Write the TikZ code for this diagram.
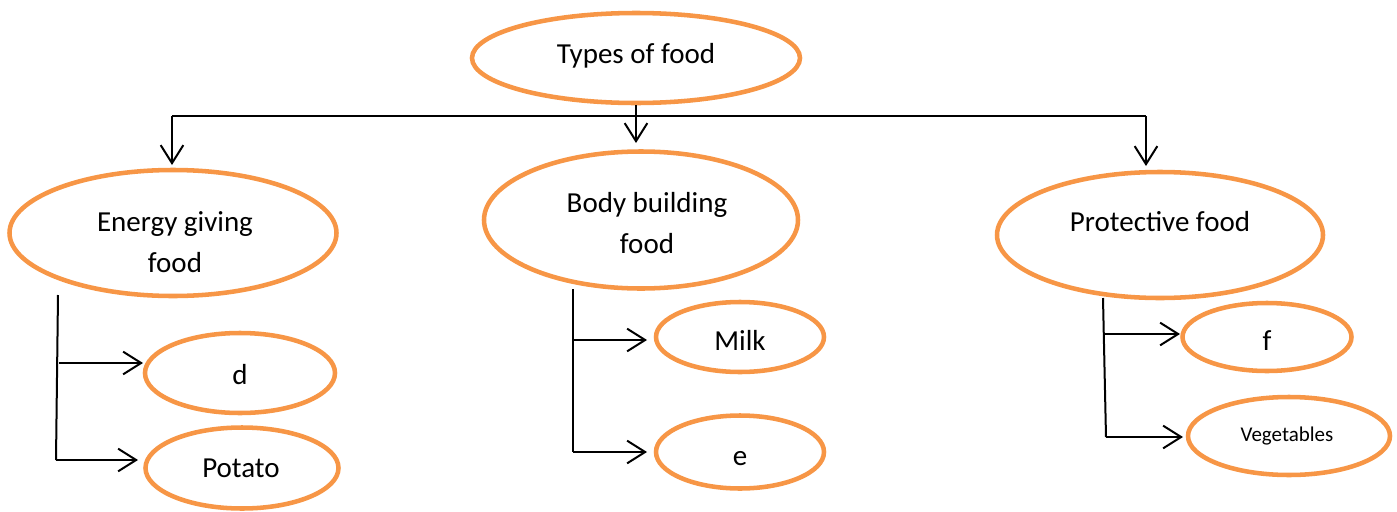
\documentclass[tikz,border=0pt]{standalone}
\usepackage{fontspec}
\setmainfont{Carlito}
\usetikzlibrary{shapes.geometric,arrows.meta}
\definecolor{foodorange}{HTML}{F79646}
\begin{document}
\begin{tikzpicture}[x=0.75pt,y=-0.75pt,
  oval/.style={ellipse, draw=foodorange, line width=3.4pt, inner sep=0pt, fill=white},
  lbl/.style={anchor=base, font=\fontsize{21.75}{30.75}\selectfont, align=center, inner sep=0pt},
  smalllbl/.style={anchor=base, font=\fontsize{15.75}{19}\selectfont, inner sep=0pt},
  link/.style={draw=black, line width=1.5pt},
  arr/.style={link, -{Straight Barb[length=13.5pt,width=17pt,line width=1.5pt]}}]
\useasboundingbox (0,0) rectangle (1397,511);
% ovals
\node[oval, minimum width=328*0.75pt, minimum height=90*0.75pt] (top) at (636,58) {};
\node[oval, minimum width=327*0.75pt, minimum height=126*0.75pt] (energy) at (173,233) {};
\node[oval, minimum width=314*0.75pt, minimum height=137*0.75pt] (body) at (641,220) {};
\node[oval, minimum width=326*0.75pt, minimum height=126*0.75pt] (prot) at (1160,235) {};
\node[oval, minimum width=190*0.75pt, minimum height=80*0.75pt] (d) at (240,373) {};
\node[oval, minimum width=193*0.75pt, minimum height=81*0.75pt] (potato) at (242,468) {};
\node[oval, minimum width=168*0.75pt, minimum height=70*0.75pt] (milk) at (740,337) {};
\node[oval, minimum width=168*0.75pt, minimum height=73*0.75pt] (e) at (740,452) {};
\node[oval, minimum width=169*0.75pt, minimum height=68*0.75pt] (f) at (1267,337) {};
\node[oval, minimum width=202*0.75pt, minimum height=78*0.75pt] (veg) at (1289,436) {};
% texts
\node[lbl] (topT) at (636,63) {Types of food};
\node[lbl] (energyT) at (175,272) {Energy giving\\food};
\node[lbl] (bodyT) at (647,253) {Body building\\food};
\node[lbl] (protT) at (1160,231) {Protective food};
\node[lbl] (dT) at (240,384) {d};
\node[lbl] (potatoT) at (241,477) {Potato};
\node[lbl] (milkT) at (740,350) {Milk};
\node[lbl] (eT) at (740,465) {e};
\node[lbl] (fT) at (1267,350) {f};
\node[smalllbl] (vegT) at (1287,441) {Vegetables};
% top connectors
\coordinate (jm) at (636,116);
\coordinate (jl) at (172,116);
\coordinate (jr) at (1146,116);
\draw[link] (top.south) -- (jm);
\draw[link] (jl) -- (jr);
\draw[arr] (jl) -- (172,165);
\draw[arr] (jm) -- (636,143);
\draw[arr] (jr) -- (1146,166);
% left branch
\coordinate (lt) at (58,295);
\coordinate (lb) at (56,460);
\coordinate (la) at (59,363);
\coordinate (lat) at (143,363);
\coordinate (lbt) at (138,460);
\draw[link] (lt) -- (lb);
\draw[arr] (la) -- (lat);
\draw[arr] (lb) -- (lbt);
% middle branch
\coordinate (mt) at (573,289);
\coordinate (mb) at (573,452);
\coordinate (ma) at (573,340);
\coordinate (mat) at (647,340);
\coordinate (mbt) at (647,452);
\draw[link] (mt) -- (mb);
\draw[arr] (ma) -- (mat);
\draw[arr] (mb) -- (mbt);
% right branch
\coordinate (rt) at (1103,298);
\coordinate (rb) at (1106,437);
\coordinate (ra) at (1103.5,334);
\coordinate (rat) at (1180,334);
\coordinate (rbt) at (1183,437);
\draw[link] (rt) -- (rb);
\draw[arr] (ra) -- (rat);
\draw[arr] (rb) -- (rbt);
\end{tikzpicture}
\end{document}
